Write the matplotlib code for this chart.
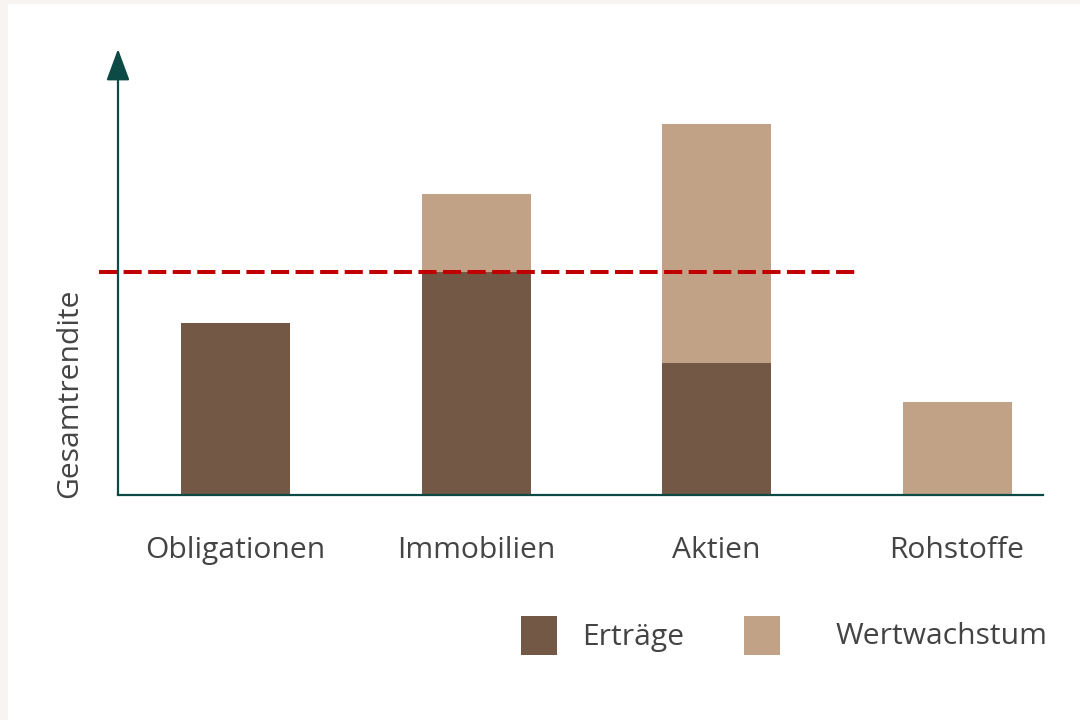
import matplotlib
matplotlib.use("Agg")
import matplotlib.pyplot as plt
from matplotlib.patches import Rectangle

categories = ["Obligationen", "Immobilien", "Aktien", "Rohstoffe"]
ertraege = [172, 223, 132, 0]
wertwachstum = [0, 78, 239, 93]
reference_level = 223
legend_labels = ["Erträge", "Wertwachstum"]
y_label = "Gesamtrendite"

DARK = "#735846"
LIGHT = "#c2a287"
RED = "#c00000"
AXIS = "#0e4a45"
TEXT = "#444444"
BG = "#f7f4f1"
FS = 21.6

W, H = 1080, 720
fig = plt.figure(figsize=(W / 100, H / 100), dpi=100, facecolor=BG)
fig.add_artist(Rectangle((8 / W, 0), 1, 1 - 4 / H, transform=fig.transFigure,
                         facecolor="white", edgecolor="none", zorder=0))

# axes from x=118..1043 px, y=495..52 px
ax_l, ax_r, ax_b, ax_t = 118, 1043, 495, 52
ax = fig.add_axes([ax_l / W, 1 - ax_b / H, (ax_r - ax_l) / W, (ax_b - ax_t) / H])
ax.patch.set_alpha(0)

step = 240.5
x0 = 235.5
xmin = (ax_l - x0) / step
xmax = (ax_r - x0) / step
ax.set_xlim(xmin, xmax)
ax.set_ylim(0, ax_b - ax_t)

xs = list(range(len(categories)))
bw = 109 / step
ax.bar(xs, ertraege, width=bw, color=DARK, edgecolor="none", zorder=2)
ax.bar(xs, wertwachstum, width=bw, bottom=ertraege, color=LIGHT, edgecolor="none", zorder=2)

# dashed reference line
ax.plot([(99 - x0) / step, (855 - x0) / step], [reference_level, reference_level],
        color=RED, lw=2.9, linestyle=(0, (4.5, 1.6)), clip_on=False, zorder=3,
        solid_capstyle="butt", dash_capstyle="butt")

for s in ["top", "right", "left"]:
    ax.spines[s].set_visible(False)
ax.spines["bottom"].set_color(AXIS)
ax.spines["bottom"].set_linewidth(1.6)

# y axis with arrow
ax.annotate("", xy=(xmin, ax_b - ax_t + 3), xytext=(xmin, 0),
            xycoords="data", textcoords="data",
            arrowprops=dict(arrowstyle="-|>,head_length=1.95,head_width=0.72",
                            color=AXIS, lw=1.6, shrinkA=0, shrinkB=0),
            annotation_clip=False)

ax.set_xticks(xs)
ax.set_xticklabels(categories, fontsize=FS, color=TEXT, family="Open Sans")
ax.tick_params(axis="x", length=0, pad=29.5)
ax.set_yticks([])

fig.text(70 / W, 1 - 393 / H, y_label, rotation=90, ha="center", va="center",
         fontsize=FS, color=TEXT, family="Open Sans")

# legend
for (sx, tx, lab, col) in [(521, 582, legend_labels[0], DARK), (744, 836, legend_labels[1], LIGHT)]:
    fig.add_artist(Rectangle((sx / W, 1 - 655 / H), 36 / W, 39 / H, transform=fig.transFigure,
                             facecolor=col, edgecolor="none"))
    fig.text(tx / W, 1 - 637 / H, lab, ha="left", va="center", fontsize=FS,
             color=TEXT, family="Open Sans")

fig.savefig("out.png", dpi=100, facecolor=BG)
